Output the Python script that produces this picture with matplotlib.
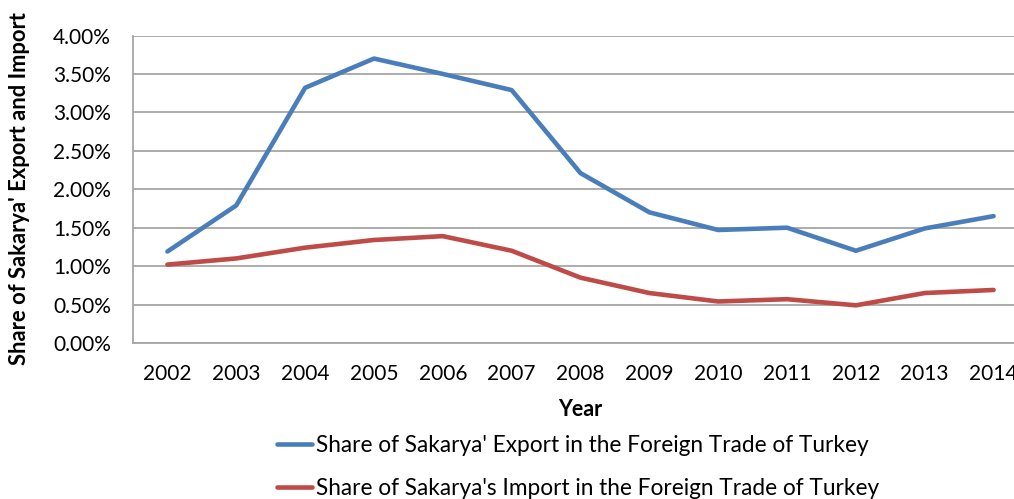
import matplotlib
matplotlib.use("Agg")
import matplotlib.pyplot as plt
from matplotlib.ticker import PercentFormatter

years = ["2002", "2003", "2004", "2005", "2006", "2007", "2008",
         "2009", "2010", "2011", "2012", "2013", "2014"]
export_share = [1.19, 1.79, 3.32, 3.70, 3.50, 3.29, 2.21, 1.70, 1.47, 1.50, 1.20, 1.49, 1.65]
import_share = [1.02, 1.10, 1.24, 1.34, 1.39, 1.20, 0.85, 0.65, 0.54, 0.57, 0.49, 0.65, 0.69]
export_label = "Share of Sakarya' Export in the Foreign Trade of Turkey"
import_label = "Share of Sakarya's Import in the Foreign Trade of Turkey"

plt.rcParams['font.family'] = ['Lato', 'DejaVu Sans']

W, H = 1014, 499
fig = plt.figure(figsize=(W / 100, H / 100), dpi=100)
left, right, top, bottom = 133, 1028, 35.5, 343
ax = fig.add_axes([left / W, 1 - bottom / H, (right - left) / W, (bottom - top) / H])

x = list(range(len(years)))
ax.plot(x, export_share, color="#4A7EBB", lw=3.3, label=export_label, solid_capstyle='round')
ax.plot(x, import_share, color="#BE4B48", lw=3.3, label=import_label, solid_capstyle='round')

ax.set_xlim(-0.5, len(years) - 0.5)
ax.set_ylim(0, 4.0)
ax.set_yticks([0, 0.5, 1.0, 1.5, 2.0, 2.5, 3.0, 3.5, 4.0])
ax.yaxis.set_major_formatter(PercentFormatter(decimals=2))
ax.set_xticks(x)
ax.set_xticklabels(years)
ax.tick_params(axis='both', length=0, labelsize=15, colors='black')
ax.tick_params(axis='x', pad=15)
ax.tick_params(axis='y', pad=16)
ax.grid(axis='y', color='#A6A6A6', lw=1.3)
ax.set_axisbelow(True)
for s in ['top', 'right']:
    ax.spines[s].set_visible(False)
ax.spines['left'].set_color('#A6A6A6')
ax.spines['left'].set_linewidth(1.3)
ax.spines['bottom'].set_color('#A6A6A6')
ax.spines['bottom'].set_linewidth(1.3)

fig.text(20 / W, 1 - 189 / H, "Share of Sakarya' Export and Import", rotation=90,
         ha='center', va='center', fontsize=15.8, fontweight='bold')
fig.text(580 / W, 1 - 409 / H, "Year", ha='center', va='center', fontsize=15.5, fontweight='bold')

fig.legend(loc='upper left', bbox_to_anchor=(277 / W, 1 - 435 / H), frameon=False,
           fontsize=16.3, handlelength=1.55, handletextpad=0.18, labelspacing=0.97,
           borderaxespad=0, borderpad=0)

fig.savefig("out.png", dpi=100)
